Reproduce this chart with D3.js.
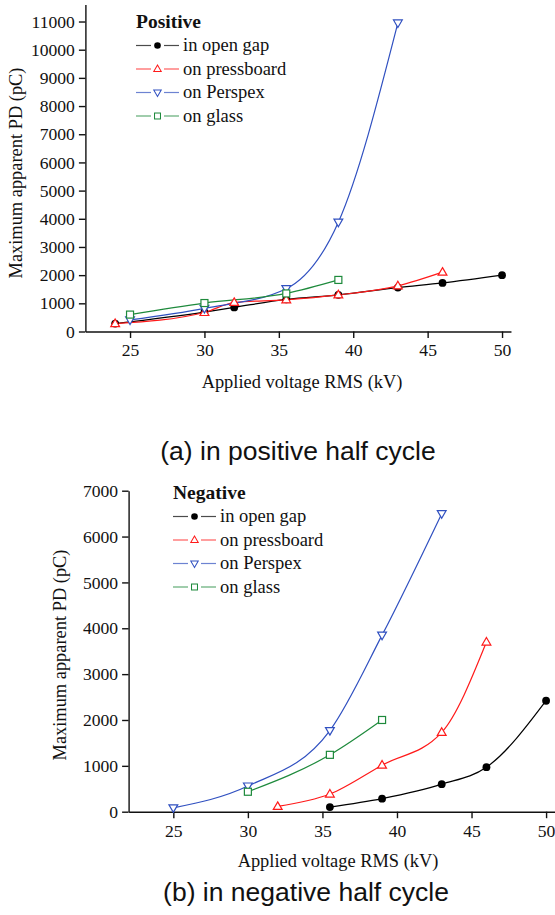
<!DOCTYPE html>
<html><head><meta charset="utf-8">
<script src="https://cdn.jsdelivr.net/npm/d3@7"></script>
<style>
body{margin:0;background:#fff;}
svg{display:block;}
</style></head>
<body>
<script>
// ---------- DATA ----------
const seriesNames = ["in open gap","on pressboard","on Perspex","on glass"];
// Positive half cycle
const posOpenGapX = [24,30,32,35.5,39,43,46,50];
const posOpenGapY = [280,690,855,1140,1300,1560,1725,2000];
const posPressX = [24,30,32,35.5,39,43,46];
const posPressY = [280,675,1030,1125,1300,1620,2105];
const posPerspexX = [25,30,35.5,39,43];
const posPerspexY = [410,820,1520,3880,10950];
const posGlassX = [25,30,35.5,39];
const posGlassY = [600,1010,1350,1830];
// Negative half cycle
const negOpenGapX = [35.5,39,43,46,50];
const negOpenGapY = [100,285,600,970,2420];
const negPressX = [32,35.5,39,43,46];
const negPressY = [115,385,1015,1730,3700];
const negPerspexX = [25,30,35.5,39,43];
const negPerspexY = [85,560,1770,3850,6500];
const negGlassX = [30,35.5,39];
const negGlassY = [435,1240,2000];
// ticks
const xTicks = [25,30,35,40,45,50];
const posYTicks = [0,1000,2000,3000,4000,5000,6000,7000,8000,9000,10000,11000];
const negYTicks = [0,1000,2000,3000,4000,5000,6000,7000];

const colors = ["#000000","#ff1a1a","#3050c0","#1e8a3c"];
const symbols = ["circle","tri-up","tri-down","square"];

const SERIF = '"Liberation Serif", "Times New Roman", serif';
const SANS = '"Liberation Sans", Arial, sans-serif';

const W=555,H=915;
const svg=d3.select("body").append("svg").attr("width",W).attr("height",H);

function zip(xs,ys){return xs.map((x,i)=>[x,ys[i]]);}

function marker(g,type,color,cx,cy){
  if(type==="circle"){
    g.append("circle").attr("cx",cx).attr("cy",cy).attr("r",3.9).attr("fill","#000");
  } else if(type==="tri-up"){
    g.append("path").attr("d",`M${cx},${cy-4.6}L${cx+4.4},${cy+3}L${cx-4.4},${cy+3}Z`)
      .attr("fill","#fff").attr("stroke",color).attr("stroke-width",1.2);
  } else if(type==="tri-down"){
    g.append("path").attr("d",`M${cx},${cy+4.6}L${cx+4.4},${cy-3}L${cx-4.4},${cy-3}Z`)
      .attr("fill","#fff").attr("stroke",color).attr("stroke-width",1.2);
  } else {
    const s=3.5;
    g.append("rect").attr("x",cx-s).attr("y",cy-s).attr("width",2*s).attr("height",2*s)
      .attr("fill","#fff").attr("stroke",color).attr("stroke-width",1.2);
  }
}

function panel(cfg){
  const g=svg.append("g");
  const x=d3.scaleLinear().domain(cfg.xDomain).range(cfg.xRange);
  const y=d3.scaleLinear().domain(cfg.yDomain).range(cfg.yRange);
  const y0=cfg.yRange[0], x0=cfg.xRange[0];

  // x axis
  const xMinor=d3.range(22.5,cfg.xDomain[1],2.5).filter(v=>!xTicks.includes(v));
  const gx=g.append("g").attr("transform",`translate(0,${y0})`);
  gx.call(d3.axisBottom(x).tickValues(xMinor).tickSize(4).tickFormat("").tickSizeOuter(0));
  gx.call(d3.axisBottom(x).tickValues(xTicks).tickSize(6.5).tickPadding(6).tickSizeOuter(0));
  gx.selectAll("text").style("font-family",SERIF).style("font-size","17.6px").attr("fill","#111");
  gx.selectAll("path,line").attr("stroke","#111").attr("stroke-width",1.4);

  // y axis
  const yMinor=d3.range(500,cfg.yDomain[1],1000);
  const gy=g.append("g").attr("transform",`translate(${x0},0)`);
  gy.call(d3.axisLeft(y).tickValues(yMinor).tickSize(4).tickFormat("").tickSizeOuter(0));
  gy.call(d3.axisLeft(y).tickValues(cfg.yTicks).tickSize(6.5).tickPadding(4).tickFormat(d3.format("d")).tickSizeOuter(0));
  gy.selectAll("text").style("font-family",SERIF).style("font-size","17.6px").attr("fill","#111");
  gy.selectAll("path,line").attr("stroke","#111").attr("stroke-width",1.4);

  // axis titles
  g.append("text").attr("x",cfg.xLabelPos[0]).attr("y",cfg.xLabelPos[1]).attr("text-anchor","middle")
    .style("font-family",SERIF).style("font-size","18.4px").attr("fill","#111").text("Applied voltage RMS (kV)");
  g.append("text").attr("transform",`translate(${cfg.yLabelPos[0]},${cfg.yLabelPos[1]}) rotate(-90)`)
    .attr("text-anchor","middle").style("font-family",SERIF).style("font-size","18.4px").attr("fill","#111")
    .text("Maximum apparent PD (pC)");

  // series
  const line=d3.line().x(d=>x(d[0])).y(d=>y(d[1])).curve(d3.curveMonotoneX);
  cfg.series.forEach((s,i)=>{
    g.append("path").attr("d",line(s)).attr("fill","none").attr("stroke",colors[i]).attr("stroke-width",1.2);
  });
  cfg.series.forEach((s,i)=>{
    s.forEach(p=>marker(g,symbols[i],colors[i],x(p[0]),y(p[1])));
  });

  // legend
  const lx=cfg.legendPos[0], ly=cfg.legendPos[1];
  g.append("text").attr("x",lx).attr("y",ly).style("font-family",SERIF).style("font-size","19.5px")
    .style("font-weight","bold").attr("fill","#111").text(cfg.title);
  seriesNames.forEach((n,i)=>{
    const ry=ly+17.5+i*23.5;
    g.append("line").attr("x1",lx).attr("x2",lx+15).attr("y1",ry).attr("y2",ry).attr("stroke",colors[i]).attr("stroke-width",1.2).attr("opacity",0.7);
    g.append("line").attr("x1",lx+28).attr("x2",lx+43).attr("y1",ry).attr("y2",ry).attr("stroke",colors[i]).attr("stroke-width",1.2).attr("opacity",0.7);
    const mg=g.append("g").attr("transform",`translate(${lx+21.5},${ry}) scale(0.85)`);
    marker(mg,symbols[i],colors[i],0,0);
    g.append("text").attr("x",lx+47).attr("y",ry+5.5).style("font-family",SERIF).style("font-size","18.5px")
      .attr("fill","#111").text(n);
  });

  // caption
  svg.append("text").attr("x",cfg.captionPos[0]).attr("y",cfg.captionPos[1]).attr("text-anchor","middle")
    .style("font-family",SANS).style("font-size","26.5px").attr("fill","#111").text(cfg.caption);
}

panel({
  xDomain:[22,50.6], xRange:[85.4,85.4+28.6*14.88],
  yDomain:[0,11600], yRange:[331.5,331.5-11600*0.02818],
  yTicks:posYTicks,
  series:[zip(posOpenGapX,posOpenGapY),zip(posPressX,posPressY),zip(posPerspexX,posPerspexY),zip(posGlassX,posGlassY)],
  legendPos:[136,28], title:"Positive",
  xLabelPos:[302,388], yLabelPos:[22,173],
  caption:"(a) in positive half cycle", captionPos:[298,460]
});
panel({
  xDomain:[22,51], xRange:[128.6,128.6+29*14.91],
  yDomain:[0,7000], yRange:[811.7,490.7],
  yTicks:negYTicks,
  series:[zip(negOpenGapX,negOpenGapY),zip(negPressX,negPressY),zip(negPerspexX,negPerspexY),zip(negGlassX,negGlassY)],
  legendPos:[173,499], title:"Negative",
  xLabelPos:[338,867], yLabelPos:[66,655],
  caption:"(b) in negative half cycle", captionPos:[306,901]
});
</script>
</body></html>
